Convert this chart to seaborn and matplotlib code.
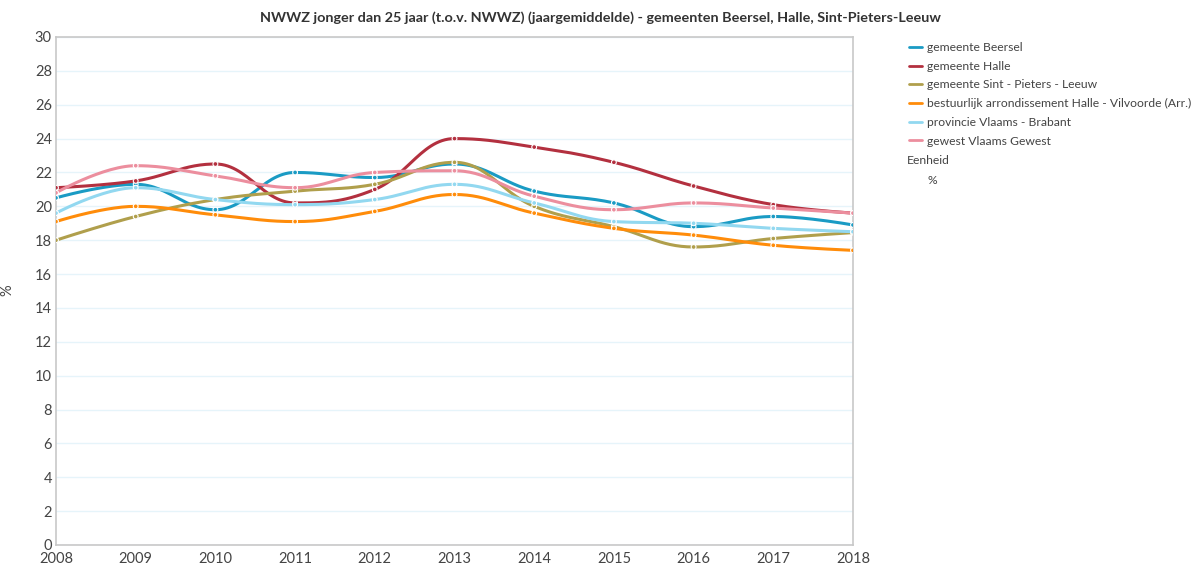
import numpy as np
import pandas as pd
import matplotlib
matplotlib.use("Agg")
import matplotlib.pyplot as plt
import seaborn as sns
from matplotlib.lines import Line2D

years = [2008, 2009, 2010, 2011, 2012, 2013, 2014, 2015, 2016, 2017, 2018]
series_names = [
    "gemeente Beersel",
    "gemeente Halle",
    "gemeente Sint - Pieters - Leeuw",
    "bestuurlijk arrondissement Halle - Vilvoorde (Arr.)",
    "provincie Vlaams - Brabant",
    "gewest Vlaams Gewest",
]
beersel = [20.5, 21.3, 19.8, 22.0, 21.7, 22.5, 20.9, 20.2, 18.8, 19.4, 18.9]
halle = [21.1, 21.5, 22.5, 20.2, 21.0, 24.0, 23.5, 22.6, 21.2, 20.1, 19.6]
spl = [18.0, 19.4, 20.4, 20.9, 21.3, 22.6, 20.0, 18.8, 17.6, 18.1, 18.45]
arr = [19.1, 20.0, 19.5, 19.1, 19.7, 20.7, 19.6, 18.7, 18.3, 17.7, 17.4]
provincie = [19.6, 21.1, 20.4, 20.1, 20.4, 21.3, 20.2, 19.1, 19.0, 18.7, 18.5]
gewest = [20.8, 22.4, 21.8, 21.1, 22.0, 22.1, 20.6, 19.8, 20.2, 19.9, 19.6]
colors = ["#1a9bc4", "#b3303f", "#b09f4c", "#ff8c0a", "#92d8f0", "#ec8e9e"]
y_ticks = list(range(0, 31, 2))

all_values = [beersel, halle, spl, arr, provincie, gewest]


def spline_curve(xs, ys, n=30):
    """Highcharts-like smoothed path through the points (cubic Bezier)."""
    xs = np.asarray(xs, float)
    ys = np.asarray(ys, float)
    smoothing, denom = 1.5, 2.5
    m = len(xs)
    lc = [(xs[i], ys[i]) for i in range(m)]
    rc = [(xs[i], ys[i]) for i in range(m)]
    for i in range(1, m - 1):
        px, py = xs[i], ys[i]
        lx, ly = xs[i - 1], ys[i - 1]
        nx, ny = xs[i + 1], ys[i + 1]
        lcx = (smoothing * px + lx) / denom
        lcy = (smoothing * py + ly) / denom
        rcx = (smoothing * px + nx) / denom
        rcy = (smoothing * py + ny) / denom
        corr = 0.0
        if rcx != lcx:
            corr = ((rcy - lcy) * (rcx - px)) / (rcx - lcx) + py - rcy
        lcy += corr
        rcy += corr
        if lcy > ly and lcy > py:
            lcy = max(ly, py)
            rcy = 2 * py - lcy
        elif lcy < ly and lcy < py:
            lcy = min(ly, py)
            rcy = 2 * py - lcy
        if rcy > ny and rcy > py:
            rcy = max(ny, py)
            lcy = 2 * py - rcy
        elif rcy < ny and rcy < py:
            rcy = min(ny, py)
            lcy = 2 * py - rcy
        lc[i] = (lcx, lcy)
        rc[i] = (rcx, rcy)
    outx, outy = [], []
    t = np.linspace(0, 1, n)
    for i in range(1, m):
        p0 = (xs[i - 1], ys[i - 1])
        p1 = rc[i - 1]
        p2 = lc[i]
        p3 = (xs[i], ys[i])
        bx = ((1 - t) ** 3) * p0[0] + 3 * ((1 - t) ** 2) * t * p1[0] + 3 * (1 - t) * t ** 2 * p2[0] + t ** 3 * p3[0]
        by = ((1 - t) ** 3) * p0[1] + 3 * ((1 - t) ** 2) * t * p1[1] + 3 * (1 - t) * t ** 2 * p2[1] + t ** 3 * p3[1]
        if i > 1:
            bx, by = bx[1:], by[1:]
        outx.extend(bx)
        outy.extend(by)
    return np.array(outx), np.array(outy)


curve_rows = []
point_rows = []
for name, vals in zip(series_names, all_values):
    cx, cy = spline_curve(years, vals)
    for k, (a, b) in enumerate(zip(cx, cy)):
        curve_rows.append({"year": a, "value": b, "series": name, "order": k})
    for a, b in zip(years, vals):
        point_rows.append({"year": a, "value": b, "series": name})
curves = pd.DataFrame(curve_rows)
points = pd.DataFrame(point_rows)
palette = dict(zip(series_names, colors))

sns.set_theme(style="white")
plt.rcParams["font.family"] = ["Lato", "DejaVu Sans"]

fig = plt.figure(figsize=(12, 5.7), dpi=100)
ax = fig.add_axes([56 / 1200, 1 - 545 / 570, (853 - 56) / 1200, (545 - 37) / 570])

sns.lineplot(data=curves, x="year", y="value", hue="series", palette=palette,
             sort=False, estimator=None, units="series", linewidth=2.2,
             legend=False, ax=ax)
sns.scatterplot(data=points, x="year", y="value", hue="series", palette=palette,
                s=12, edgecolor="white", linewidth=0.8, legend=False, ax=ax, zorder=3)

ax.set_xlim(2008, 2018)
ax.set_ylim(0, 30)
ax.set_xticks(years)
ax.set_xticklabels([str(y) for y in years])
ax.set_yticks(y_ticks)
ax.yaxis.grid(True, color="#e6f4fa", linewidth=1)
ax.xaxis.grid(False)
for sp in ax.spines.values():
    sp.set_color("#c8c8c8")
    sp.set_linewidth(1.2)
ax.tick_params(axis="both", colors="#444444", labelsize=10.5, length=0, pad=3)
ax.tick_params(axis="x", pad=5)
ax.set_xlabel("")
ax.set_ylabel("%", color="#444444", fontsize=10.5)
ax.yaxis.set_label_coords((14 - 56) / (853 - 56), (545 - 290) / (545 - 37))

fig.text(0.5, 1 - 18 / 570,
         "NWWZ jonger dan 25 jaar (t.o.v. NWWZ) (jaargemiddelde) - gemeenten Beersel, Halle, Sint-Pieters-Leeuw",
         ha="center", va="center", fontsize=10.4, fontweight="bold", color="#333333")

handles = [Line2D([0], [0], color=c, linewidth=2) for c in colors]
leg = fig.legend(handles, series_names, loc="upper left",
                 bbox_to_anchor=(909 / 1200, 1 - 42 / 570), frameon=False,
                 fontsize=8.7, handlelength=1.05, handletextpad=0.45,
                 labelspacing=0.64, borderaxespad=0, borderpad=0)
for t in leg.get_texts():
    t.set_color("#444444")
fig.text(907 / 1200, 1 - 161 / 570, "Eenheid", ha="left", va="center",
         fontsize=8.7, color="#444444")
fig.text(928 / 1200, 1 - 181 / 570, "%", ha="left", va="center",
         fontsize=8.7, color="#444444")

fig.savefig("out.png", dpi=100, facecolor="white")
